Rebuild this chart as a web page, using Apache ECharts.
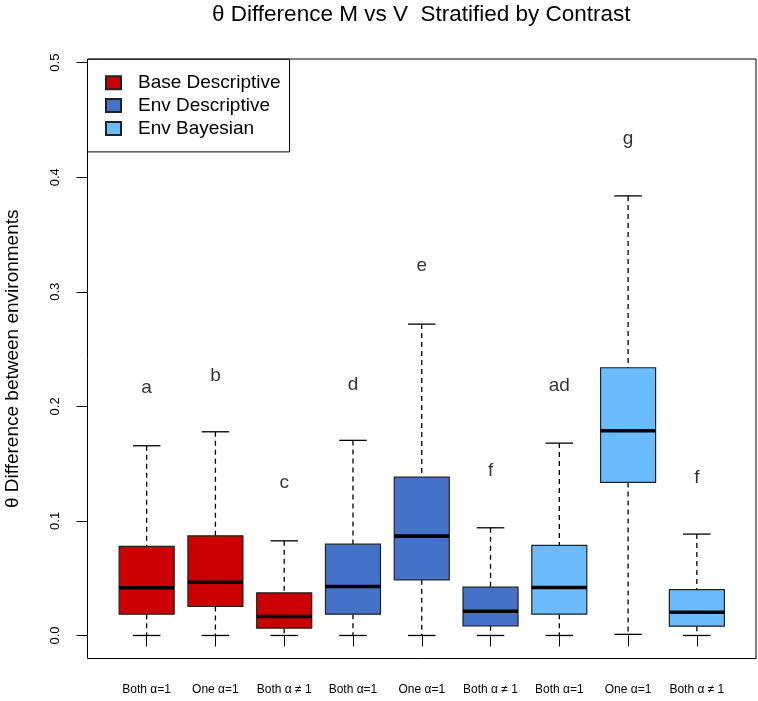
<!DOCTYPE html>
<html>
<head>
<meta charset="utf-8">
<script src="https://cdn.jsdelivr.net/npm/echarts@6/dist/echarts.min.js"></script>
<style>
html, body { margin: 0; padding: 0; background: #fff; }
#chart { width: 758px; height: 701px; }
</style>
</head>
<body>
<div id="chart"></div>
<script>
// box stats, one entry per box
const categories = ['Both α=1', 'One α=1', 'Both α ≠ 1', 'Both α=1', 'One α=1', 'Both α ≠ 1', 'Both α=1', 'One α=1', 'Both α ≠ 1']
const groups = ['Base Descriptive', 'Env Descriptive', 'Env Bayesian']
const groupColors = ['#CD0000', '#4472C8', '#6ABCFF']
const groupOf = [0, 0, 0, 1, 1, 1, 2, 2, 2]
const whiskerLow = [0, 0, 0, 0, 0, 0, 0, 0.001, 0]
const q1 = [0.0186, 0.0253, 0.0064, 0.0186, 0.0486, 0.0084, 0.0186, 0.1336, 0.0081]
const median = [0.0416, 0.0465, 0.0166, 0.0428, 0.0867, 0.0212, 0.0419, 0.1787, 0.0203]
const q3 = [0.0777, 0.0870, 0.0372, 0.0797, 0.1382, 0.0422, 0.0786, 0.2337, 0.0401]
const whiskerHigh = [0.1656, 0.1778, 0.0826, 0.1703, 0.2718, 0.0940, 0.1679, 0.3837, 0.0885]
const letters = ['a', 'b', 'c', 'd', 'e', 'f', 'ad', 'g', 'f']
const letterY = [0.216, 0.227, 0.133, 0.219, 0.323, 0.1435, 0.218, 0.434, 0.1376]
const yTicks = [0, 0.1, 0.2, 0.3, 0.4, 0.5]
const xTicks = [1, 2, 3, 4, 5, 6, 7, 8, 9]

const FONT = '"Liberation Sans", Arial, sans-serif'

function renderBox(params, api) {
  const x = api.value(0)
  const lo = api.value(1)
  const b1 = api.value(2)
  const md = api.value(3)
  const b3 = api.value(4)
  const hi = api.value(5)
  const half = 0.4   // boxwex 0.8
  const cap = 0.2    // staplewex 0.5

  const tl = api.coord([x - half, b3])
  const br = api.coord([x + half, b1])
  const mL = api.coord([x - half, md])
  const mR = api.coord([x + half, md])
  const top = api.coord([x, hi])
  const bot = api.coord([x, lo])
  const q3p = api.coord([x, b3])
  const q1p = api.coord([x, b1])
  const capHiL = api.coord([x - cap, hi])
  const capHiR = api.coord([x + cap, hi])
  const capLoL = api.coord([x - cap, lo])
  const capLoR = api.coord([x + cap, lo])

  const dash = { stroke: '#000', lineWidth: 1.3, lineDash: [5, 4] }
  const solid = { stroke: '#000', lineWidth: 1.3 }

  return {
    type: 'group',
    children: [
      { type: 'line', shape: { x1: top[0], y1: top[1], x2: q3p[0], y2: q3p[1] }, style: dash },
      { type: 'line', shape: { x1: q1p[0], y1: q1p[1], x2: bot[0], y2: bot[1] }, style: dash },
      { type: 'line', shape: { x1: capHiL[0], y1: capHiL[1], x2: capHiR[0], y2: capHiR[1] }, style: solid },
      { type: 'line', shape: { x1: capLoL[0], y1: capLoL[1], x2: capLoR[0], y2: capLoR[1] }, style: solid },
      {
        type: 'rect',
        shape: { x: tl[0], y: tl[1], width: br[0] - tl[0], height: br[1] - tl[1] },
        style: { fill: api.visual('color'), stroke: '#222', lineWidth: 1.2 }
      },
      { type: 'line', shape: { x1: mL[0], y1: mL[1], x2: mR[0], y2: mR[1] }, style: { stroke: '#000', lineWidth: 3.6 } }
    ]
  }
}

const series = groups.map((name, g) => ({
  name: name,
  type: 'custom',
  renderItem: renderBox,
  itemStyle: { color: groupColors[g], borderColor: '#222', borderWidth: 1 },
  encode: { x: 0, y: [1, 2, 3, 4, 5] },
  data: xTicks
    .map((x, i) => [x, whiskerLow[i], q1[i], median[i], q3[i], whiskerHigh[i]])
    .filter((d, i) => groupOf[i] === g),
  silent: true
}))

series.push({
  name: 'letters',
  type: 'scatter',
  symbolSize: 0,
  silent: true,
  data: xTicks.map((x, i) => [x, letterY[i], letters[i]]),
  label: {
    show: true,
    position: 'inside',
    formatter: p => p.data[2],
    fontFamily: FONT,
    fontSize: 19,
    color: '#000'
  }
})

const chart = echarts.init(document.getElementById('chart'))
chart.setOption({
  animation: false,
  backgroundColor: '#fff',
  title: {
    text: 'θ Difference M vs V  Stratified by Contrast',
    left: 212,
    top: 3,
    padding: 0,
    textStyle: { fontFamily: FONT, fontSize: 22.5, fontWeight: 'normal', color: '#000' }
  },
  legend: {
    data: groups,
    orient: 'vertical',
    left: 87.5,
    top: 59.3,
    padding: [14, 9, 14, 17.5],
    itemGap: 3.8,
    itemWidth: 15,
    itemHeight: 13,
    icon: 'rect',
    backgroundColor: '#fff',
    borderColor: '#000',
    borderWidth: 1,
    borderRadius: 0,
    selectedMode: false,
    textStyle: { fontFamily: FONT, fontSize: 19, lineHeight: 19, color: '#000', padding: [0, 0, 0, 12] }
  },
  grid: {
    left: 87.5,
    top: 59,
    width: 668.5,
    height: 599.5,
    outerBoundsMode: 'none',
    containLabel: false,
    show: true,
    borderColor: '#000',
    borderWidth: 1,
    backgroundColor: 'transparent'
  },
  xAxis: {
    type: 'value',
    min: 0.14,
    max: 9.86,
    splitLine: { show: false },
    axisLine: { show: false },
    axisTick: { show: true, length: 11, customValues: xTicks, lineStyle: { color: '#000' } },
    axisLabel: {
      customValues: xTicks,
      formatter: v => categories[Math.round(v) - 1],
      margin: 25,
      fontFamily: FONT,
      fontSize: 12,
      color: '#000'
    }
  },
  yAxis: {
    type: 'value',
    min: -0.0201,
    max: 0.5032,
    name: 'θ Difference between environments',
    nameLocation: 'middle',
    nameGap: 65,
    nameTextStyle: { fontFamily: FONT, fontSize: 19, color: '#000' },
    splitLine: { show: false },
    axisLine: { show: false },
    axisTick: { show: true, length: 11, customValues: yTicks, lineStyle: { color: '#000' } },
    axisLabel: {
      customValues: yTicks,
      rotate: 90,
      formatter: v => v.toFixed(1),
      margin: 26,
      fontFamily: FONT,
      fontSize: 13,
      color: '#000'
    }
  },
  series: series
})
</script>
</body>
</html>
